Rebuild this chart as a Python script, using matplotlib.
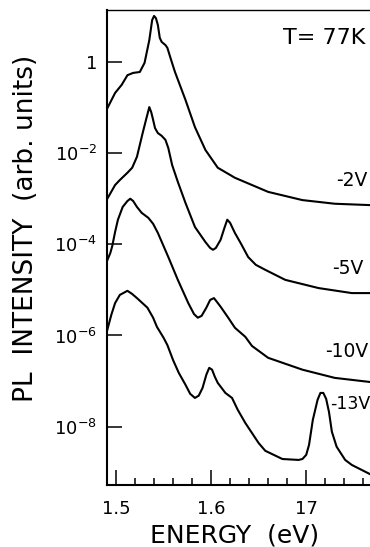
import numpy as np
import matplotlib
matplotlib.use('Agg')
import matplotlib.pyplot as plt
from matplotlib.ticker import FixedLocator, NullLocator, MultipleLocator

# Энергия (эВ) и log10 интенсивности ФЛ
e_2v = [1.490, 1.499, 1.506, 1.512, 1.518, 1.525, 1.530, 1.535, 1.538, 1.540, 1.542,
        1.544, 1.546, 1.548, 1.552, 1.554, 1.558, 1.562, 1.573, 1.583, 1.594, 1.607,
        1.625, 1.660, 1.696, 1.730, 1.767]
log_2v = [-1.05, -0.68, -0.50, -0.29, -0.24, -0.22, -0.02, 0.48, 0.92, 1.01, 0.96,
          0.81, 0.53, 0.44, 0.37, 0.31, 0.04, -0.22, -0.83, -1.43, -1.93, -2.32,
          -2.54, -2.85, -3.03, -3.11, -3.14]

e_5v = [1.490, 1.499, 1.504, 1.512, 1.517, 1.522, 1.528, 1.532, 1.535, 1.537, 1.539,
        1.541, 1.544, 1.548, 1.552, 1.555, 1.559, 1.565, 1.573, 1.583, 1.594, 1.599,
        1.602, 1.605, 1.610, 1.614, 1.617, 1.620, 1.625, 1.631, 1.639, 1.647, 1.657,
        1.678, 1.713, 1.748, 1.767]
log_5v = [-3.03, -2.70, -2.59, -2.43, -2.32, -2.08, -1.56, -1.23, -0.99, -1.10, -1.27,
          -1.45, -1.56, -1.62, -1.71, -1.89, -2.26, -2.63, -3.09, -3.62, -3.95, -4.08,
          -4.12, -4.08, -3.90, -3.64, -3.46, -3.53, -3.75, -3.97, -4.28, -4.45, -4.56,
          -4.78, -4.96, -5.07, -5.07]

e_10v = [1.490, 1.494, 1.496, 1.499, 1.502, 1.507, 1.512, 1.515, 1.518, 1.522, 1.527,
         1.534, 1.539, 1.544, 1.555, 1.565, 1.576, 1.582, 1.586, 1.590, 1.595, 1.599,
         1.603, 1.606, 1.610, 1.618, 1.625, 1.636, 1.643, 1.660, 1.696, 1.730, 1.767]
log_10v = [-4.39, -4.19, -4.04, -3.73, -3.46, -3.18, -3.05, -3.00, -3.05, -3.18, -3.31,
           -3.42, -3.55, -3.75, -4.28, -4.78, -5.29, -5.53, -5.61, -5.57, -5.39, -5.22,
           -5.18, -5.26, -5.37, -5.61, -5.83, -6.03, -6.23, -6.49, -6.75, -6.93, -7.02]

e_13v = [1.490, 1.495, 1.499, 1.504, 1.512, 1.517, 1.522, 1.533, 1.539, 1.543, 1.550,
         1.554, 1.560, 1.566, 1.573, 1.578, 1.583, 1.587, 1.591, 1.595, 1.598, 1.601,
         1.604, 1.607, 1.615, 1.622, 1.628, 1.636, 1.643, 1.650, 1.657, 1.675, 1.692,
         1.696, 1.700, 1.703, 1.707, 1.712, 1.715, 1.718, 1.721, 1.724, 1.727, 1.732,
         1.741, 1.748, 1.767]
log_13v = [-5.94, -5.55, -5.29, -5.11, -5.02, -5.09, -5.18, -5.39, -5.61, -5.81, -6.05,
           -6.21, -6.54, -6.82, -7.08, -7.28, -7.37, -7.32, -7.15, -6.86, -6.71, -6.75,
           -6.91, -7.04, -7.26, -7.37, -7.63, -7.92, -8.14, -8.36, -8.53, -8.71, -8.73,
           -8.71, -8.62, -8.40, -7.85, -7.41, -7.26, -7.26, -7.39, -7.68, -8.11, -8.44,
           -8.73, -8.84, -9.04]

curves = [(e_2v, log_2v), (e_5v, log_5v), (e_10v, log_10v), (e_13v, log_13v)]

# подписи кривых: текст, энергия, log10 интенсивности
labels = ['-2V', '-5V', '-10V', '-13V']
label_e = [1.7316, 1.7274, 1.7200, 1.7250]
label_log = [-2.59, -4.54, -6.36, -7.50]
label_size = [13.5, 13.5, 13.5, 12.5]

x_ticks = [1.5, 1.6, 1.7]
x_tick_labels = ['1.5', '1.6', '17']
y_ticks = [1, 1e-2, 1e-4, 1e-6, 1e-8]
y_tick_labels = ['1', r'$10^{-2}$', r'$10^{-4}$', r'$10^{-6}$', r'$10^{-8}$']

plt.rcParams['font.family'] = ['DejaVu Sans']
plt.rcParams['mathtext.fontset'] = 'dejavusans'

fig = plt.figure(figsize=(3.7, 5.47), dpi=100)
ax = fig.add_axes([107 / 370, 1 - 485 / 547, 280 / 370, 475 / 547])

for e, lg in curves:
    ax.plot(e, 10 ** np.array(lg), color='black', linewidth=1.5)

for txt, e, lg, fs in zip(labels, label_e, label_log, label_size):
    ax.text(e, 10 ** lg, txt, fontsize=fs, va='center', ha='left')

ax.text(1.6758, 10 ** 0.526, 'T= 77K', fontsize=16, va='center', ha='left')

ax.set_yscale('log')
ax.set_xlim(1.4905, 1.785)
ax.set_ylim(10 ** -9.28, 10 ** 1.14)

ax.xaxis.set_major_locator(FixedLocator(x_ticks))
ax.set_xticklabels(x_tick_labels)
ax.xaxis.set_minor_locator(MultipleLocator(0.02))
ax.yaxis.set_major_locator(FixedLocator(y_ticks))
ax.yaxis.set_minor_locator(NullLocator())
ax.set_yticklabels(y_tick_labels)

ax.tick_params(axis='x', which='major', direction='in', length=11, width=1.1,
               labelsize=13, pad=11)
ax.tick_params(axis='x', which='minor', direction='in', length=5, width=1.1)
ax.tick_params(axis='y', which='major', direction='in', length=11, width=1.1,
               labelsize=13, pad=7)

ax.spines['right'].set_visible(False)
ax.spines['left'].set_linewidth(1.5)
ax.spines['bottom'].set_linewidth(1.5)
ax.spines['top'].set_linewidth(1.0)

fig.text(26 / 370, 1 - 228 / 547, 'PL  INTENSITY  (arb. units)', rotation=90,
         fontsize=19, ha='center', va='center')
fig.text(235 / 370, 1 - 542 / 547, 'ENERGY  (eV)', fontsize=18,
         ha='center', va='baseline')

fig.savefig('out.png', dpi=100)
